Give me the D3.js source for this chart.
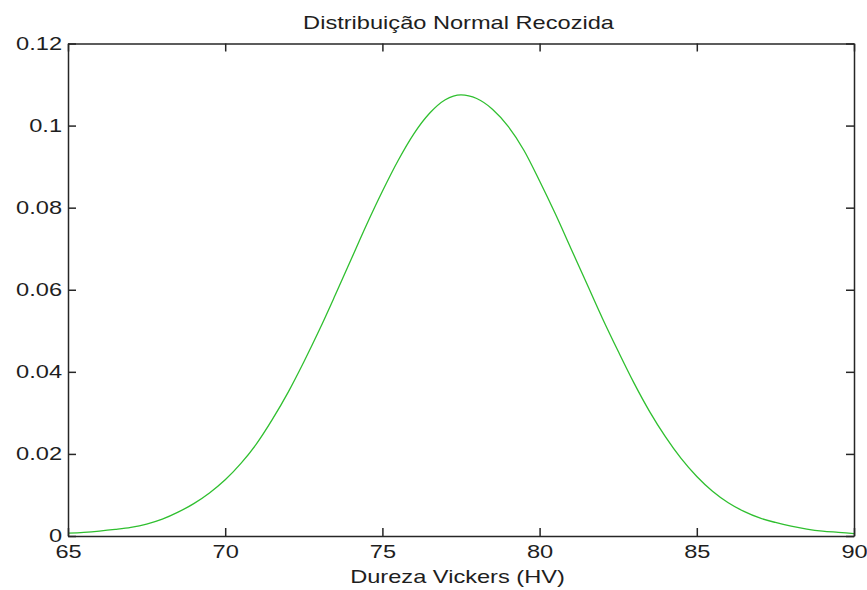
<!DOCTYPE html>
<html>
<head>
<meta charset="utf-8">
<script src="https://cdn.jsdelivr.net/npm/d3@7"></script>
<style>
  body { margin: 0; background: #fff; }
  text { font-family: "Liberation Sans", Arial, sans-serif; fill: #1e1e1e; }
</style>
</head>
<body>
<div id="chart"></div>
<script>
// curve, every 0.5 HV (hardness HV -> density)
const hvValues = [65, 65.5, 66, 66.5, 67, 67.5, 68, 68.5, 69, 69.5, 70, 70.5, 71, 71.5, 72, 72.5, 73, 73.5, 74, 74.5,
    75, 75.5, 76, 76.5, 77, 77.5, 78, 78.5, 79, 79.5, 80, 80.5, 81, 81.5, 82, 82.5, 83, 83.5, 84, 84.5,
    85, 85.5, 86, 86.5, 87, 87.5, 88, 88.5, 89, 89.5, 90];
const densityValues = [0.0007, 0.0009, 0.0012, 0.0016, 0.0021, 0.0029, 0.0041, 0.0058, 0.0079, 0.0105, 0.0137, 0.0177, 0.0225, 0.0284, 0.0350, 0.0424, 0.0503, 0.0587, 0.0673, 0.0759,
    0.0840, 0.0915, 0.0980, 0.1030, 0.1063, 0.1075, 0.1066, 0.1040, 0.0998, 0.0940, 0.0865, 0.0785, 0.0700, 0.0615, 0.0530, 0.0450, 0.0373, 0.0303, 0.0242, 0.0189,
    0.0145, 0.0109, 0.0081, 0.0060, 0.0044, 0.0033, 0.0024, 0.0017, 0.0012, 0.0009, 0.0006];
const xTicks = [65, 70, 75, 80, 85, 90];
const yTicks = [0, 0.02, 0.04, 0.06, 0.08, 0.1, 0.12];
const yTickLabels = ["0", "0.02", "0.04", "0.06", "0.08", "0.1", "0.12"];

const titleText = "Distribuição Normal Recozida";
const xLabelText = "Dureza Vickers (HV)";

const width = 867;
const height = 590;
const margin = { top: 43.5, right: 13, bottom: 54, left: 68 };
const fontSize = 17.5;
const stretch = 1.35; // the picture's lettering is wide

const svg = d3.select("#chart").append("svg")
    .attr("width", width)
    .attr("height", height);

const x = d3.scaleLinear()
    .domain([65, 90])
    .range([margin.left, width - margin.right]);

const y = d3.scaleLinear()
    .domain([0, 0.12])
    .range([height - margin.bottom, margin.top]);

// curve
const data = hvValues.map((v, i) => ({ hv: v, p: densityValues[i] }));
const line = d3.line()
    .x(d => x(d.hv))
    .y(d => y(d.p))
    .curve(d3.curveMonotoneX);

svg.append("path")
    .datum(data)
    .attr("fill", "none")
    .attr("stroke", "#2fbf2f")
    .attr("stroke-width", 1.3)
    .attr("d", line);

// axes, ticks pointing inward on all four sides
function styleAxis(g) {
    g.selectAll("path, line").attr("stroke", "#262626").attr("stroke-width", 1.5);
    g.selectAll("text").style("font-size", fontSize + "px").attr("fill", "#1e1e1e");
}

const bottomAxis = svg.append("g")
    .attr("transform", "translate(0," + y(0) + ")")
    .call(d3.axisBottom(x).tickValues(xTicks).tickFormat(d3.format("d"))
        .tickSize(-8).tickSizeOuter(0).tickPadding(10))
    .call(styleAxis);
bottomAxis.selectAll("text").attr("transform", "scale(" + stretch + ",1)");

const leftAxis = svg.append("g")
    .attr("transform", "translate(" + x(65) + ",0)")
    .call(d3.axisLeft(y).tickValues(yTicks).tickFormat((d, i) => yTickLabels[i])
        .tickSize(-8).tickSizeOuter(0).tickPadding(6))
    .call(styleAxis);
leftAxis.selectAll("text")
    .attr("x", -6 / stretch)
    .attr("transform", "scale(" + stretch + ",1)");

svg.append("g")
    .attr("transform", "translate(0," + y(0.12) + ")")
    .call(d3.axisTop(x).tickValues(xTicks).tickFormat("").tickSize(-8).tickSizeOuter(0))
    .call(styleAxis);

svg.append("g")
    .attr("transform", "translate(" + x(90) + ",0)")
    .call(d3.axisRight(y).tickValues(yTicks).tickFormat("").tickSize(-8).tickSizeOuter(0))
    .call(styleAxis);

// title and axis label
svg.append("text")
    .attr("transform", "translate(458.5,28.5) scale(" + stretch + ",1)")
    .attr("text-anchor", "middle")
    .style("font-size", fontSize + "px")
    .text(titleText);

svg.append("text")
    .attr("transform", "translate(457.5,583) scale(" + stretch + ",1)")
    .attr("text-anchor", "middle")
    .style("font-size", fontSize + "px")
    .text(xLabelText);
</script>
</body>
</html>
